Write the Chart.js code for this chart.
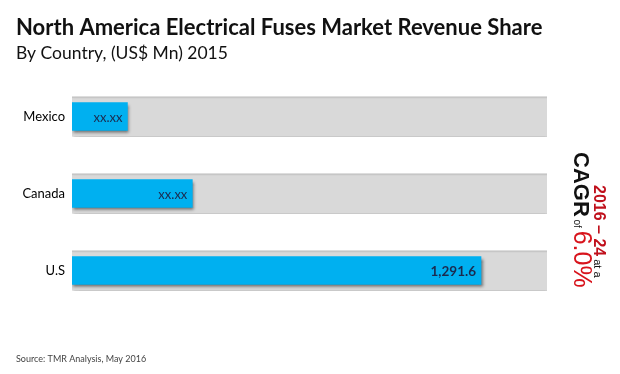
<!DOCTYPE html>
<html>
<head>
<meta charset="utf-8">
<script src="https://cdn.jsdelivr.net/npm/chart.js@4.4.1/dist/chart.umd.min.js"></script>
<style>
  html, body { margin: 0; padding: 0; background: #ffffff; }
  #wrap { width: 620px; height: 374px; position: relative; }
</style>
</head>
<body>
<div id="wrap"><canvas id="c" width="620" height="374"></canvas></div>
<script>
// ---- data ----
const categories = ['Mexico', 'Canada', 'U.S'];
const revenue = [175, 380, 1291.6];          // US$ Mn, 2015 (Mexico/Canada)
const valueLabels = ['xx.xx', 'xx.xx', '1,291.6'];
const scaleMax = 1500;
const backdrop = categories.map(() => scaleMax);

const titleText = 'North America Electrical Fuses Market Revenue Share';
const subtitleText = 'By Country, (US$ Mn) 2015';
const sourceText = 'Source: TMR Analysis, May 2016';
const cagrPeriod = '2016 \u2013 24';
const cagrAt = ' at a';
const cagrWord = 'CAGR';
const cagrOf = ' of ';
const cagrValue = '6.0%';

const shadowPlugin = {
  id: 'barShadow',
  beforeDatasetsDraw(chart) {
    const ctx = chart.ctx;
    ctx.save();
    ctx.shadowColor = 'rgba(0,0,0,0.5)';
    ctx.shadowBlur = 3;
    ctx.shadowOffsetX = 1.5;
    ctx.shadowOffsetY = 2.5;
  },
  afterDatasetsDraw(chart) {
    chart.ctx.restore();
  }
};

const textPlugin = {
  id: 'texts',
  afterDraw(chart) {
    const ctx = chart.ctx;
    ctx.save();
    // value labels
    const meta = chart.getDatasetMeta(0);
    meta.data.forEach((bar, i) => {
      const bold = i === 2;
      ctx.font = (bold ? 'bold 13.5px' : '13px') + ' Lato';
      ctx.fillStyle = '#1b2a4e';
      ctx.textAlign = 'right';
      ctx.textBaseline = 'middle';
      ctx.fillText(valueLabels[i], bar.x - 5, bar.y + 1);
    });

    // title & subtitle
    ctx.textAlign = 'left';
    ctx.textBaseline = 'alphabetic';
    ctx.fillStyle = '#111111';
    ctx.font = 'bold 22px Lato';
    ctx.fillText(titleText, 16, 35);
    ctx.font = '17.5px Lato';
    ctx.fillText(subtitleText, 16, 59);

    // source
    ctx.font = '9px Lato';
    ctx.fillStyle = '#444444';
    ctx.fillText(sourceText, 16, 362);

    // rotated CAGR text
    function runLine(x, y, parts) {
      ctx.save();
      ctx.translate(x, y);
      ctx.rotate(Math.PI / 2);
      ctx.textAlign = 'left';
      ctx.textBaseline = 'alphabetic';
      let pos = 0;
      parts.forEach(p => {
        ctx.font = p.font;
        ctx.fillStyle = p.color;
        ctx.fillText(p.text, pos, 0);
        pos += ctx.measureText(p.text).width;
      });
      ctx.restore();
    }
    runLine(574, 152, [
      { text: cagrWord, font: 'bold 22px "Liberation Sans"', color: '#111111' },
      { text: cagrOf, font: '10px "Liberation Sans"', color: '#111111' },
      { text: cagrValue, font: '25px "Liberation Sans"', color: '#d8141c' }
    ]);
    runLine(594, 185, [
      { text: cagrPeriod, font: 'bold 16px "Liberation Sans"', color: '#c0101c' },
      { text: cagrAt, font: '11px "Liberation Sans"', color: '#111111' }
    ]);
    ctx.restore();
  }
};

new Chart(document.getElementById('c'), {
  type: 'bar',
  data: {
    labels: categories,
    datasets: [
      {
        label: 'Revenue',
        data: revenue,
        backgroundColor: '#00b0f0',
        barThickness: 28,
        grouped: false,
        order: 0
      },
      {
        label: 'Backdrop',
        data: backdrop,
        backgroundColor: '#d9d9d9',
        borderColor: '#c6c6c6',
        borderWidth: { top: 2, left: 0, right: 0, bottom: 0 },
        barThickness: 40,
        grouped: false,
        order: 1
      }
    ]
  },
  options: {
    indexAxis: 'y',
    responsive: false,
    animation: false,
    devicePixelRatio: 1,
    layout: { padding: { left: 0, right: 73, top: 78, bottom: 65 } },
    plugins: {
      legend: { display: false },
      tooltip: { enabled: false },
      title: { display: false }
    },
    scales: {
      x: { display: false, min: 0, max: scaleMax },
      y: {
        grid: { display: false, drawTicks: false },
        border: { display: false },
        ticks: {
          color: '#000000',
          font: { family: 'Lato', size: 13 },
          padding: 7
        },
        afterFit(scale) { scale.width = 72; }
      }
    }
  },
  plugins: [shadowPlugin, textPlugin]
});
</script>
</body>
</html>
